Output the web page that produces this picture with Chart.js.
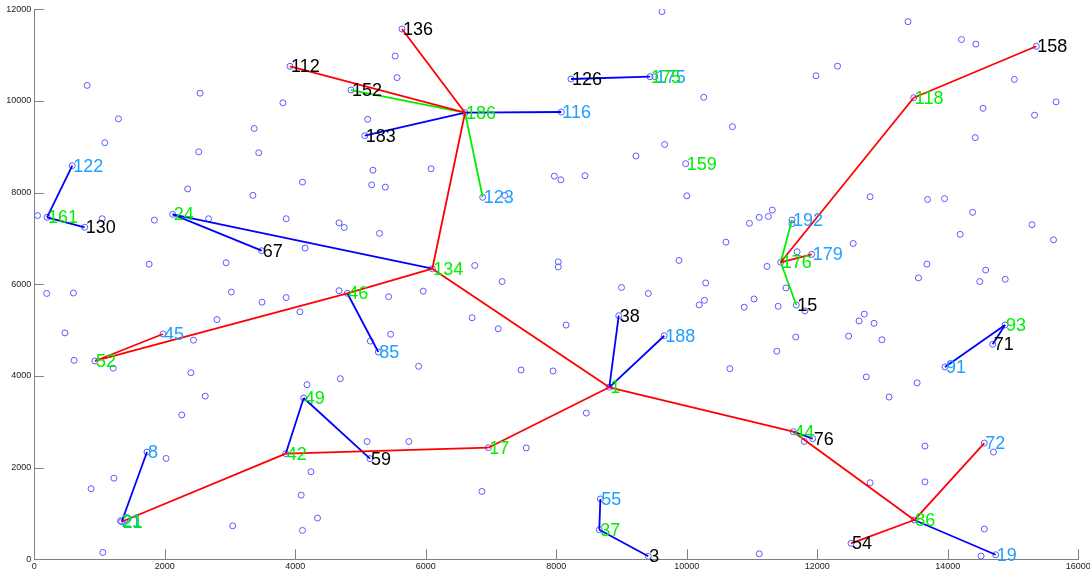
<!DOCTYPE html>
<html>
<head>
<meta charset="utf-8">
<script src="https://cdn.jsdelivr.net/npm/chart.js@4/dist/chart.umd.min.js"></script>
<style>
  html, body { margin: 0; padding: 0; background: #ffffff; }
  #wrap { width: 1090px; height: 573px; }
</style>
</head>
<body>
<div id="wrap"><canvas id="c" width="1090" height="573"></canvas></div>
<script>
// Axis ticks
const xTickValues = [0, 2000, 4000, 6000, 8000, 10000, 12000, 14000, 16000];
const xTickText = ['0', '2000', '4000', '6000', '8000', '10000', '12000', '14000', '16000'];
const yTickValues = [0, 2000, 4000, 6000, 8000, 10000, 12000];
const yTickText = ['0', '2000', '4000', '6000', '8000', '10000', '12000'];

// Unlabelled sites
const dotX = [
  810, 2540, 1290, 1080, 3370, 2520, 3440, 2350, 3350,
  5530, 5560, 3810, 5110, 5190, 6080, 4110, 5170, 5380, 7210,
  9620, 11980, 10260, 10700, 9660, 9220, 7970, 8070, 8440, 10000,
  13390, 14210, 14430, 12310, 15020, 15660, 14540, 15330, 14420, 12810, 13690, 13950,
  50, 1040, 1840, 2670, 2940, 1760, 190, 600, 3020, 3490, 2800, 470, 2440, 610, 1210, 2400,
  3860, 4670, 4750, 5290, 4150, 6750, 7170, 3860, 4070, 4670, 5430, 5960, 6710, 7110, 5460, 5150, 5890, 7460, 4180, 4690,
  10960, 11110, 11250, 11310, 11610, 10600, 8030, 8030, 9880, 11690, 11230, 10290, 9000, 9410, 11520, 11030, 10270, 10190, 10880, 11400, 11810, 8150, 11670, 11380, 7950, 10660,
  14380, 15290, 15620, 14190, 12550, 13680, 13550, 14580, 14490, 14880, 12720, 12640, 12870, 12480, 12990, 12750, 13530,
  2620, 2260, 2020, 870, 1220, 3040, 1050,
  5100, 5740, 7540, 4240, 4090, 6860, 4340, 4110,
  8460, 11800, 11110,
  13100, 13650, 14700, 12810, 13650, 14560, 14510
];
const dotY = [
  10340, 10170, 9610, 9090, 9400, 8890, 8870, 8080, 7940,
  10980, 10510, 9960, 9600, 8490, 8520, 8230, 8170, 8120, 7940,
  11950, 10550, 10080, 9440, 9050, 8800, 8360, 8280, 8370, 7930,
  11730, 11340, 11240, 10760, 10470, 9980, 9840, 9690, 9200, 7910, 7850, 7870,
  7500, 7430, 7400, 7430, 6470, 6440, 5800, 5810, 5830, 5610, 5230, 4940, 4780, 4340, 4170, 4070,
  7430, 7340, 7240, 7110, 6790, 6410, 6060, 5710, 5400, 5860, 5730, 5850, 5270, 5030, 4910, 4760, 4210, 4130, 3810, 3940,
  7330, 7460, 7480, 7620, 7320, 6920, 6490, 6380, 6520, 6710, 6390, 6030, 5930, 5800, 5920, 5680, 5650, 5550, 5500, 5520, 5420, 5110, 4850, 4540, 4110, 4160,
  7570, 7300, 6970, 7090, 6890, 6440, 6140, 6310, 6060, 6110, 5350, 5200, 5150, 4870, 4790, 3980, 3850,
  3560, 3150, 2200, 1540, 1770, 730, 150,
  2570, 2570, 2430, 1910, 1400, 1480, 900, 630,
  3190, 2570, 120,
  3540, 2470, 2340, 1670, 1690, 660, 70
];

// Labelled nodes: text, position and role (hub / leaf / tip)
const nodeText = ['136', '112', '152', '186', '183', '123', '126', '175', '175', '116', '159', '158', '118',
  '122', '161', '130', '24', '67', '45', '52', '134', '46', '85', '176', '192', '179', '15', '38', '188', '1',
  '93', '71', '91', '8', '21', '21', '49', '42', '59', '17', '44', '76', '55', '37', '3', '72', '86', '54', '19'];
const nodeX = [5635, 3919, 4854, 6601, 5064, 6872, 8225, 9436, 9510, 8077, 9983, 15357, 13478,
  582, 195, 772, 2121, 3485, 1972, 930, 6100, 4797, 5272, 11439, 11612, 11914, 11678, 8957, 9655, 8812,
  14877, 14688, 13957, 1727, 1339, 1320, 4129, 3853, 5145, 6958, 11632, 11930, 8675, 8659, 9410, 14560, 13487, 12517, 14734];
const nodeY = [11570, 10756, 10239, 9744, 9242, 7898, 10479, 10529, 10530, 9759, 8631, 11193, 10071,
  8588, 7462, 7244, 7527, 6733, 4916, 4327, 6340, 5804, 4523, 6480, 7403, 6654, 5548, 5315, 4878, 3753,
  5112, 4691, 4196, 2341, 820, 840, 3519, 2304, 2195, 2435, 2784, 2631, 1316, 646, 65, 2537, 857, 349, 100];
const nodeRole = ['tip', 'tip', 'tip', 'hub', 'tip', 'leaf', 'tip', 'hub', 'leaf', 'leaf', 'hub', 'tip', 'hub',
  'leaf', 'hub', 'tip', 'hub', 'tip', 'leaf', 'hub', 'hub', 'hub', 'leaf', 'hub', 'leaf', 'leaf', 'tip', 'tip', 'leaf', 'hub',
  'hub', 'tip', 'leaf', 'leaf', 'hub', 'leaf', 'hub', 'hub', 'tip', 'hub', 'hub', 'tip', 'leaf', 'hub', 'tip', 'leaf', 'hub', 'tip', 'leaf'];

// Links between nodes, grouped by kind
const redLinks = [['136', '186'], ['112', '186'], ['186', '134'], ['134', '46'], ['46', '52'], ['52', '45'],
  ['134', '1'], ['1', '17'], ['17', '42'], ['42', '21'], ['1', '44'], ['44', '86'], ['86', '54'], ['86', '72'],
  ['176', '118'], ['118', '158'], ['176', '179']];
const greenLinks = [['186', '152'], ['186', '123'], ['176', '192'], ['176', '15']];
const blueLinks = [['186', '116'], ['186', '183'], ['126', '175'], ['122', '161'], ['161', '130'], ['24', '67'],
  ['24', '134'], ['46', '85'], ['1', '38'], ['1', '188'], ['21', '8'], ['42', '49'], ['49', '59'], ['44', '76'],
  ['55', '37'], ['37', '3'], ['93', '91'], ['93', '71'], ['86', '19']];

// Styling
const FONT = 'Arial, "Liberation Sans", sans-serif';
const roleColor = { hub: '#00ee00', leaf: '#1f9fff', tip: '#000000' };
const linkColor = { red: '#ff0000', green: '#00ee00', blue: '#0000ff' };
const axisColor = '#808080';

function nodePoint(name) {
  const i = nodeText.indexOf(name);
  return { x: nodeX[i], y: nodeY[i] };
}

const linkSets = [];
function addLinks(list, color) {
  list.forEach(([a, b]) => {
    linkSets.push({
      type: 'scatter',
      data: [nodePoint(a), nodePoint(b)],
      showLine: true,
      borderColor: color,
      backgroundColor: color,
      borderWidth: 1.8,
      pointRadius: 0,
      pointHoverRadius: 0,
      fill: false,
      order: 1
    });
  });
}
addLinks(redLinks, linkColor.red);
addLinks(greenLinks, linkColor.green);
addLinks(blueLinks, linkColor.blue);

const siteData = dotX.map((x, i) => ({ x, y: dotY[i] }))
  .concat(nodeX.map((x, i) => ({ x, y: nodeY[i] })));

const siteSet = {
  type: 'scatter',
  data: siteData,
  showLine: false,
  pointStyle: 'circle',
  pointRadius: 3,
  pointBorderWidth: 1,
  pointBorderColor: '#5a5aff',
  pointBackgroundColor: 'rgba(0,0,0,0)',
  order: 2
};

// Inward tick marks on both axes
const inwardTicks = {
  id: 'inwardTicks',
  afterDraw(chart) {
    const { ctx, chartArea, scales } = chart;
    ctx.save();
    ctx.strokeStyle = axisColor;
    ctx.lineWidth = 1;
    ctx.beginPath();
    xTickValues.forEach(v => {
      const px = Math.round(scales.x.getPixelForValue(v)) + 0.5;
      ctx.moveTo(px, chartArea.bottom);
      ctx.lineTo(px, chartArea.bottom - 10);
    });
    yTickValues.forEach(v => {
      const py = Math.round(scales.y.getPixelForValue(v)) + 0.5;
      ctx.moveTo(chartArea.left, py);
      ctx.lineTo(chartArea.left + 9.5, py);
    });
    ctx.stroke();
    ctx.restore();
  }
};

// Node number labels, written just right of each node
const nodeLabels = {
  id: 'nodeLabels',
  afterDatasetsDraw(chart) {
    const { ctx, scales } = chart;
    ctx.save();
    ctx.font = '18px ' + FONT;
    ctx.textAlign = 'left';
    ctx.textBaseline = 'middle';
    ['leaf', 'tip', 'hub'].forEach(role => {
      nodeText.forEach((t, i) => {
        if (nodeRole[i] !== role) return;
        ctx.fillStyle = roleColor[role];
        ctx.fillText(t, scales.x.getPixelForValue(nodeX[i]) + 1, scales.y.getPixelForValue(nodeY[i]) + 1);
      });
    });
    ctx.restore();
  }
};

new Chart(document.getElementById('c'), {
  type: 'scatter',
  data: { datasets: [...linkSets, siteSet] },
  options: {
    responsive: false,
    animation: false,
    devicePixelRatio: 1,
    layout: { padding: { top: 9.3, right: 11.7, left: 0, bottom: 0 } },
    plugins: { legend: { display: false }, tooltip: { enabled: false } },
    scales: {
      x: {
        type: 'linear',
        min: 0,
        max: 16000,
        afterBuildTicks: axis => { axis.ticks = xTickValues.map(v => ({ value: v })); },
        afterFit: s => { s.height = 13.7; s.paddingLeft = 0; s.paddingRight = 0; },
        ticks: {
          callback: (v, i) => xTickText[i],
          font: { size: 9, family: FONT },
          color: '#222222',
          padding: 2,
          maxRotation: 0,
          autoSkip: false
        },
        grid: { display: false, drawTicks: false },
        border: { display: true, color: axisColor, width: 1 }
      },
      y: {
        type: 'linear',
        min: 0,
        max: 12000,
        afterBuildTicks: axis => { axis.ticks = yTickValues.map(v => ({ value: v })); },
        afterFit: s => { s.width = 34.3; s.paddingTop = 0; s.paddingBottom = 0; },
        ticks: {
          callback: (v, i) => yTickText[i],
          font: { size: 9, family: FONT },
          color: '#222222',
          padding: 3,
          autoSkip: false
        },
        grid: { display: false, drawTicks: false },
        border: { display: true, color: axisColor, width: 1 }
      }
    }
  },
  plugins: [inwardTicks, nodeLabels]
});
</script>
</body>
</html>
